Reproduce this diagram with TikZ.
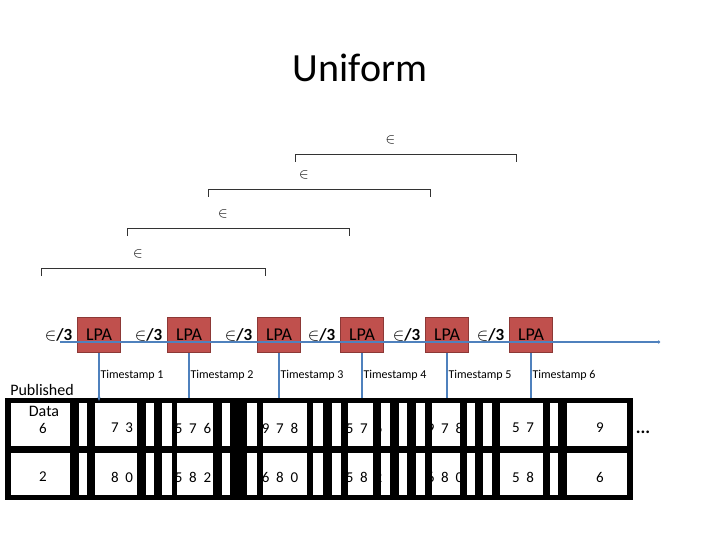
\documentclass[tikz,border=0pt]{standalone}
\usepackage{fontspec}
\setmainfont{Carlito}
\usetikzlibrary{arrows.meta,positioning}
\definecolor{lpared}{RGB}{192,80,77}
\definecolor{lpaedge}{RGB}{140,56,54}
\definecolor{lineblue}{RGB}{79,129,189}
\tikzset{
  lpa/.style={draw=lpaedge,fill=lpared,line width=1.5pt,minimum width=43pt,minimum height=35pt,inner sep=0pt,font=\fontsize{18}{20}\selectfont},
  budget/.style={font=\fontsize{17}{19}\selectfont\bfseries},
  stamp/.style={font=\fontsize{12}{14}\selectfont},
  cellnum/.style={font=\fontsize{15}{17}\selectfont},
  window/.style={draw=black!80,line width=0.8pt}
}
\begin{document}
\begin{tikzpicture}[x=1pt,y=-1pt]
\useasboundingbox (0,0) rectangle (720,540);

% title
\node[font=\fontsize{40}{44}\selectfont] (title) at (360,68) {Uniform};

% sliding windows
\foreach \i/\xa/\xb/\ya in {1/295/516/154,2/208/430/189,3/127/349/228,4/41/265/268}{
  \coordinate (wl\i) at (\xa,\ya+8);
  \coordinate (wr\i) at (\xb,\ya+8);
  \draw[window] (wl\i) -- (\xa,\ya) -- (\xb,\ya) -- (wr\i);
  \node[font=\fontsize{14}{16}\selectfont] (eps\i) at ({(\xa+\xb)/2-15},\ya-14) {$\in$};
}

% time line
\coordinate (tstart) at (60,342);
\coordinate (tend) at (660,342);

% LPA boxes
\foreach \n/\x in {1/99,2/189,3/279,4/362,5/447,6/531}{
  \node[lpa] (lpa\n) at (\x,335) {LPA};
  \node[budget,left=1pt of lpa\n] (half\n) {$\in$/3};
  \node[stamp,anchor=west] (ts\n) at (\x-2,375) {Timestamp \n};
}
\draw[lineblue,line width=1.2pt,-{Circle[length=3pt]}] (tstart) -- (tend);

% table
\fill[black] (5,398) rectangle (633,500);
\foreach \xa/\xb in {11/70,79/87,95/137,146/154,162/172,177/213,222/230,247/257,263/307,313/323,332/341,348/373,381/390,399/407,416/425,432/460,467/475,483/492,500/543,550/558,567/627}{
  \fill[white] (\xa,403) rectangle (\xb,446);
  \fill[white] (\xa,453) rectangle (\xb,495);
}
\node[font=\fontsize{16}{18}\selectfont] (pub) at (42,390) {Published};
\node[font=\fontsize{16}{18}\selectfont] (data) at (44,411) {Data};
\foreach \x/\a/\b in {43/6/2,122/7\ \ 3/8\ \ 0,193/5\ \ 7\ \ 6/5\ \ 8\ \ 2,280/9\ \ 7\ \ 8/6\ \ 8\ \ 0,364/5\ \ 7\ \ 6/5\ \ 8\ \ 2,445/9\ \ 7\ \ 8/6\ \ 8\ \ 0,523/5\ \ 7/5\ \ 8,600/9/6}{
  \node[cellnum] at (\x,428) {\a};
  \node[cellnum] at (\x,477) {\b};
}
\node[font=\fontsize{18}{20}\selectfont\bfseries] (more) at (643,432) {...};

% links from LPA to the published data
\coordinate (row1) at (99,401);
\draw[lineblue,line width=1.2pt,-{Stealth[length=4pt]}] (lpa1.south) -- (row1);
\foreach \n/\x in {2/189,3/279,4/362,5/447,6/531}{
  \coordinate (row\n) at (\x,398);
  \draw[lineblue,line width=1.2pt] (lpa\n.south) -- (row\n);
}
\end{tikzpicture}
\end{document}
